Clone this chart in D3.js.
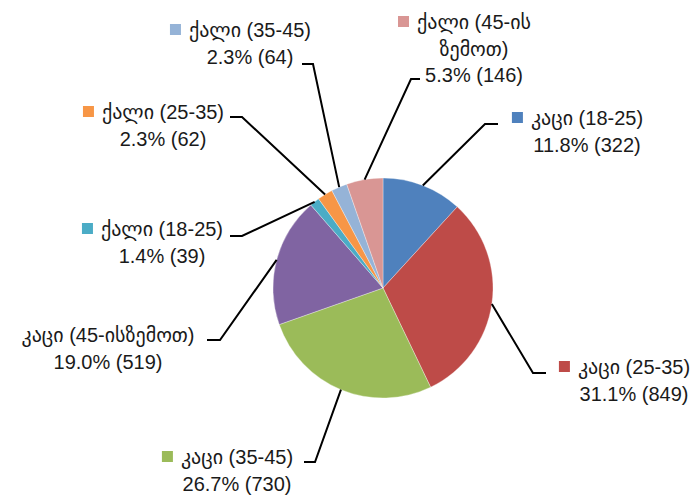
<!DOCTYPE html>
<html>
<head>
<meta charset="utf-8">
<script src="https://cdn.jsdelivr.net/npm/d3@7"></script>
<style>
  body { margin: 0; background: #fff; }
  text { font-family: "Liberation Sans", "DejaVu Sans", sans-serif; fill: #1a1a1a; }
</style>
</head>
<body>
<div id="chart"></div>
<script>
// data
var categories = ["კაცი (18-25)", "კაცი (25-35)", "კაცი (35-45)", "კაცი (45-ის ზემოთ)",
                  "ქალი (18-25)", "ქალი (25-35)", "ქალი (35-45)", "ქალი (45-ის ზემოთ)"];
var values = [322, 849, 730, 519, 39, 62, 64, 146];
var colors = ["#4F81BD", "#BE4B48", "#9BBB59", "#8064A2", "#4BACC6", "#F79646", "#95B3D7", "#D99694"];

// how each label is wrapped
var labelLines = [
    ["კაცი (18-25)"], ["კაცი (25-35)"], ["კაცი (35-45)"], ["კაცი (45-ისზემოთ)"],
    ["ქალი (18-25)"], ["ქალი (25-35)"], ["ქალი (35-45)"], ["ქალი (45-ის", "ზემოთ)"]
];

(function() {
    var width = 694, height = 495;
    var cx = 383, cy = 288, radius = 110;

    // label placement: elbow of the leader, end of its short tail, text centre, first line y
    var layout = [
        {ex: 485, ey: 124, tx: 498, x: 587, y: 118, box: true},
        {ex: 533, ey: 373, tx: 546, x: 634, y: 367, box: true},
        {ex: 315, ey: 462, tx: 304, x: 237, y: 457, box: true},
        {ex: 220, ey: 340, tx: 207, x: 108, y: 335, box: false},
        {ex: 242, ey: 236, tx: 230, x: 162, y: 229, box: true},
        {ex: 242, ey: 117, tx: 230, x: 163, y: 112, box: true},
        {ex: 313, ey: 64,  tx: 302, x: 250, y: 30,  box: true},
        {ex: 411, ey: 79,  tx: 420, x: 474, y: 22,  box: true}
    ];
    var lineGap = 26.5;

    var svg = d3.select("#chart").append("svg")
        .attr("width", width)
        .attr("height", height);

    var total = d3.sum(values);
    var fmt = d3.format(".1%");

    var pie = d3.pie().sort(null).value(d => d)(values);
    var arc = d3.arc().innerRadius(0).outerRadius(radius);

    var g = svg.append("g")
        .attr("transform", "translate(" + cx + "," + cy + ")");

    g.selectAll("path")
        .data(pie)
        .enter().append("path")
        .attr("d", arc)
        .attr("fill", (d, i) => colors[i])
        .attr("stroke", "#ffffff")
        .attr("stroke-opacity", 0.4)
        .attr("stroke-width", 0.8);

    // leader lines
    pie.forEach(function(d, i) {
        var a = (d.startAngle + d.endAngle) / 2;
        var px = cx + radius * Math.sin(a),
            py = cy - radius * Math.cos(a);
        var L = layout[i];
        svg.append("polyline")
            .attr("points", [[px, py], [L.ex, L.ey], [L.tx, L.ey]].map(p => p.join(",")).join(" "))
            .attr("fill", "none")
            .attr("stroke", "#000")
            .attr("stroke-width", 2);
    });

    // labels
    pie.forEach(function(d, i) {
        var L = layout[i];
        var lines = labelLines[i].concat([fmt(values[i] / total) + " (" + values[i] + ")"]);
        var texts = lines.map(function(s, k) {
            return svg.append("text")
                .attr("x", L.x)
                .attr("y", L.y + k * lineGap)
                .attr("dy", "0.35em")
                .attr("text-anchor", "middle")
                .style("font-size", "20px")
                .text(s);
        });
        if (L.box) {
            var bb = texts[0].node().getBBox();
            svg.append("rect")
                .attr("x", bb.x - 19)
                .attr("y", L.y - 6)
                .attr("width", 11)
                .attr("height", 11)
                .attr("fill", colors[i]);
        }
    });
})();
</script>
</body>
</html>
